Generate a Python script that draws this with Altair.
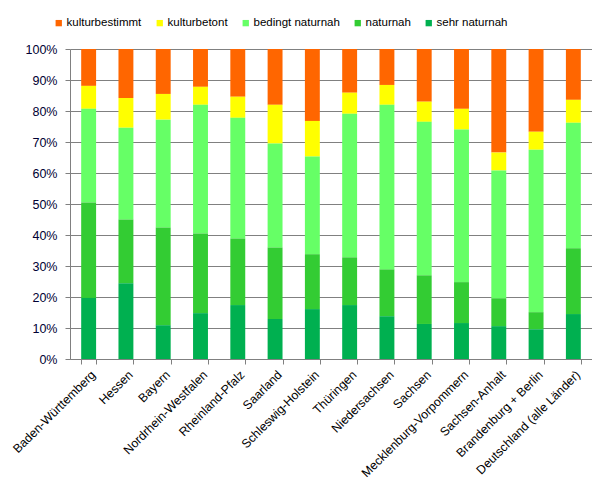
import altair as alt
import pandas as pd

laender = ["Baden-Württemberg", "Hessen", "Bayern", "Nordrhein-Westfalen",
           "Rheinland-Pfalz", "Saarland", "Schleswig-Holstein", "Thüringen",
           "Niedersachsen", "Sachsen", "Mecklenburg-Vorpommern", "Sachsen-Anhalt",
           "Brandenburg + Berlin", "Deutschland (alle Länder)"]

sehr_naturnah = [19.7, 24.4, 10.9, 14.8, 17.4, 12.9, 16.1, 17.4, 13.8, 11.3, 11.6, 10.6, 9.6, 14.5]
naturnah = [30.8, 20.6, 31.5, 25.7, 21.5, 23.1, 17.7, 15.4, 15.1, 15.7, 13.2, 9.0, 5.5, 21.2]
bedingt_naturnah = [30.2, 29.6, 34.8, 41.5, 38.9, 33.5, 31.5, 46.3, 53.1, 49.5, 49.2, 41.2, 52.4, 40.5]
kulturbetont = [7.4, 9.6, 8.3, 5.8, 6.8, 12.5, 11.5, 6.8, 6.4, 6.5, 6.7, 5.8, 5.8, 7.4]
kulturbestimmt = [11.9, 15.8, 14.5, 12.2, 15.4, 18.0, 23.2, 14.1, 11.6, 17.0, 19.3, 33.4, 26.7, 16.4]

kategorien = ["kulturbestimmt", "kulturbetont", "bedingt naturnah", "naturnah", "sehr naturnah"]
farben = ["#FF6600", "#FFFF00", "#66FF66", "#33CC33", "#00B050"]
serien = [kulturbestimmt, kulturbetont, bedingt_naturnah, naturnah, sehr_naturnah]

rows = []
for k, (kat, werte) in enumerate(zip(kategorien, serien)):
    for land, w in zip(laender, werte):
        rows.append({"land": land, "kat": kat, "wert": w / 100.0, "ord": 4 - k})
df = pd.DataFrame(rows)

font = "Liberation Sans"

chart = alt.Chart(df).mark_bar().encode(
    x=alt.X("land:N", sort=laender, title=None,
            scale=alt.Scale(paddingInner=0.6, paddingOuter=0.3),
            axis=alt.Axis(labelAngle=-45, tickBand="extent", labelColor="#000000",
                          labelFontSize=12.3, labelFont=font, labelPadding=4,
                          domainColor="#808080", tickColor="#808080", tickSize=5,
                          grid=False, labelOverlap=False)),
    y=alt.Y("wert:Q", stack="zero", title=None,
            scale=alt.Scale(domain=[0, 1], nice=False),
            axis=alt.Axis(format=".0%", values=[i / 10 for i in range(11)],
                          labelColor="#000033", labelFontSize=12.5, labelFont=font,
                          labelPadding=8, domainColor="#808080", tickColor="#808080",
                          tickSize=5, gridColor="#808080", gridOpacity=1, gridWidth=1)),
    color=alt.Color("kat:N", sort=kategorien,
                    scale=alt.Scale(domain=kategorien, range=farben),
                    legend=alt.Legend(title=None, orient="none", direction="horizontal",
                                      legendX=-17, legendY=-32, symbolType="square",
                                      symbolSize=40, symbolStrokeWidth=0,
                                      labelFontSize=11.5, labelFont=font, labelColor="#000000",
                                      columnPadding=12, labelOffset=2, padding=0)),
    order=alt.Order("ord:Q", sort="ascending"),
).properties(
    width=522, height=310,
    autosize=alt.AutoSizeParams(type="none"),
    padding={"left": 62, "top": 41, "right": 0, "bottom": 137},
).configure_view(
    fill="#F2F2F2", stroke=None
).configure(background="#FFFFFF")

chart.save("out.html", embed_options={"renderer": "svg", "actions": False})
